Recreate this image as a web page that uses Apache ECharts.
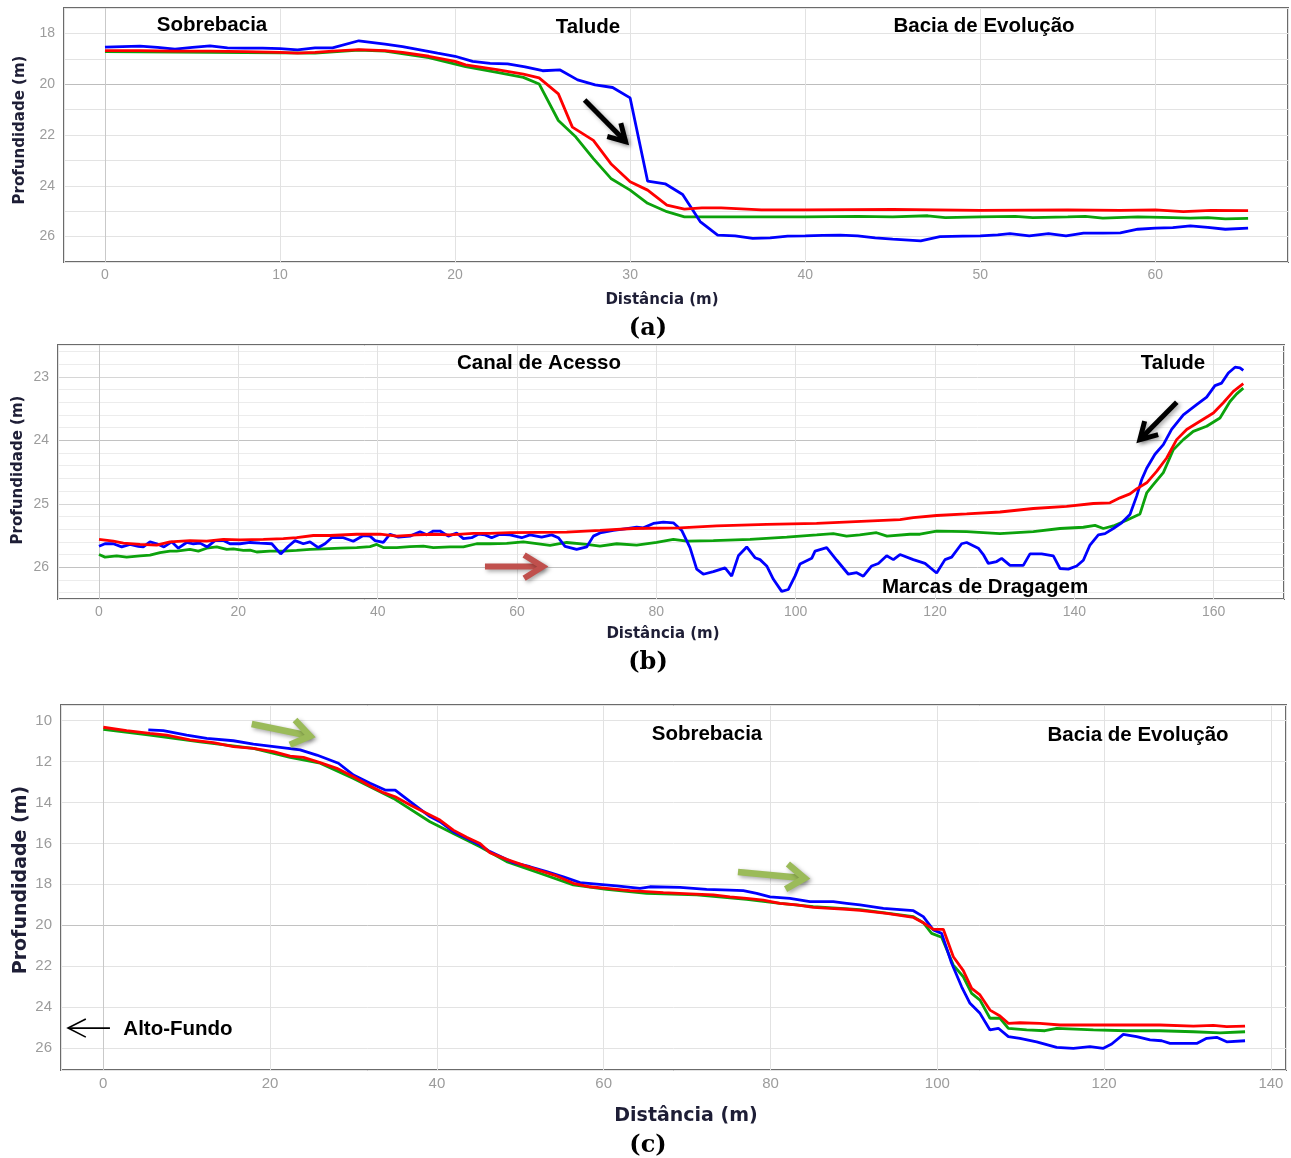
<!DOCTYPE html>
<html><head><meta charset="utf-8">
<script src="https://cdn.jsdelivr.net/npm/echarts@6/dist/echarts.min.js"></script>
<style>html,body{margin:0;padding:0;background:#fff;} #c{width:1291px;height:1158px;}</style>
</head><body><div id="c"></div>
<script>
// ---------- Panel (a) ----------
const aBlueX = [0,1,2,3,4,5,6,7,8,9,10,11,12,13,14.5,16,17,18,19,20,21,22,23,24,25,26,27,28,29,30,31,32,33,34,35,36,37,38,39,40,41,42,43,44,45,46.6,47.7,49,50,51,51.7,52.8,53.9,54.9,55.9,57,58,59,60,61,62,63,64,65.3];
const aBlueY = [18.54,18.52,18.50,18.55,18.62,18.55,18.49,18.57,18.58,18.58,18.60,18.65,18.57,18.57,18.29,18.42,18.52,18.65,18.78,18.9,19.1,19.18,19.2,19.32,19.47,19.44,19.83,20.03,20.13,20.54,23.82,23.92,24.34,25.41,25.94,25.97,26.07,26.05,25.98,25.97,25.95,25.94,25.97,26.05,26.1,26.17,26.0,25.98,25.97,25.93,25.88,25.97,25.88,25.97,25.86,25.86,25.85,25.71,25.67,25.65,25.58,25.64,25.71,25.67];
const aRedX = [0,2,4,6,8,10,11,12,13,14.5,16,17,18.5,20,20.6,22.4,23.9,24.8,25.9,26.7,27.9,28.9,30,31,32.1,33.1,34.1,35.2,37.5,40,45,50,55,58,60,61.6,63.2,65.3];
const aRedY = [18.68,18.68,18.7,18.7,18.72,18.75,18.78,18.75,18.7,18.64,18.68,18.75,18.9,19.1,19.24,19.43,19.6,19.75,20.38,21.69,22.21,23.13,23.84,24.17,24.76,24.92,24.87,24.87,24.95,24.95,24.93,24.97,24.95,24.97,24.95,25.02,24.97,24.98];
const aGreenX = [0,4,8,12,14.5,16,18.5,20.6,22.4,23.9,24.8,25.9,26.9,27.9,28.9,30,31,32.1,33.1,35,40,43,45,47,48,50,52,53,55,56,57,59,61,62,63,64,65.3];
const aGreenY = [18.72,18.74,18.76,18.78,18.66,18.7,18.95,19.31,19.53,19.73,19.99,21.43,22.08,22.93,23.71,24.17,24.69,25.02,25.22,25.22,25.22,25.2,25.22,25.18,25.25,25.22,25.2,25.25,25.22,25.2,25.27,25.22,25.25,25.27,25.25,25.3,25.28];

// ---------- Panel (b) ----------
const bBlueX = [0,0.86,2.06,3.26,4.45,5.65,6.36,7.32,8.28,9.33,10.43,11.39,12.58,13.54,14.5,15.55,16.65,17.85,18.8,20.24,21.68,23.11,24.8,26.08,27.18,28.14,29.33,30.29,31.48,32.44,33.4,35.07,36.5,37.94,38.9,39.62,40.81,41.77,42.97,44.64,46.08,47.04,47.99,48.95,50.14,51.34,52.3,53.49,54.45,55.41,56.36,57.56,59.0,60.67,61.87,63.54,64.98,65.93,66.89,68.56,70.0,70.96,71.91,73.83,75.74,77.18,78.13,79.57,81.0,82.44,83.64,84.83,85.79,86.74,88.18,89.86,90.81,91.77,92.97,94.16,94.88,95.84,96.8,97.99,98.95,99.9,100.62,102.3,102.78,104.45,105.9,107.56,108.76,109.71,110.91,111.87,113.06,114.02,114.97,116.88,118.56,120.23,121.43,122.39,123.82,124.54,126.21,126.93,127.65,128.85,129.56,130.76,132.67,133.63,135.3,136.98,137.94,139.13,140.33,141.29,142.24,143.44,144.4,145.59,146.79,147.98,148.94,149.66,150.38,151.57,152.77,153.96,155.64,157.55,158.99,160.18,161.14,162.1,163.06,163.77,164.25];
const bBlueY = [25.67,25.63,25.63,25.68,25.64,25.67,25.68,25.6,25.63,25.68,25.6,25.70,25.61,25.63,25.62,25.68,25.58,25.58,25.63,25.63,25.61,25.62,25.63,25.79,25.67,25.58,25.63,25.6,25.69,25.63,25.535,25.535,25.59,25.50,25.51,25.58,25.61,25.48,25.525,25.51,25.44,25.49,25.43,25.43,25.51,25.46,25.55,25.535,25.48,25.49,25.535,25.48,25.49,25.535,25.49,25.525,25.49,25.535,25.67,25.72,25.68,25.51,25.46,25.42,25.39,25.37,25.38,25.31,25.29,25.30,25.42,25.69,26.03,26.11,26.07,26.01,26.14,25.82,25.68,25.85,25.88,25.98,26.19,26.38,26.35,26.14,25.95,25.86,25.745,25.69,25.89,26.11,26.085,26.14,25.98,25.94,25.82,25.88,25.80,25.88,25.94,26.09,25.88,25.84,25.63,25.61,25.70,25.80,25.94,25.91,25.86,25.97,25.97,25.79,25.79,25.82,26.02,26.03,25.98,25.89,25.65,25.49,25.47,25.39,25.30,25.17,24.88,24.62,24.44,24.22,24.07,23.83,23.60,23.44,23.32,23.14,23.10,22.94,22.85,22.86,22.90];
const bRedX = [0,2.06,3.5,5.89,8.28,10.19,13.06,15.46,17.85,20.24,23.59,26.46,28.37,30.77,33.16,36.99,40.33,42.73,45.6,47.99,50.38,53.73,56.12,59.0,67.13,71.91,76.7,83.4,88.66,95.84,103.0,110.2,114.98,116.88,120.23,124.54,129.32,134.11,138.89,142.72,145.11,146.55,147.98,148.94,150.38,151.81,153.25,154.68,156.12,158.03,159.95,161.38,162.82,164.25];
const bRedY = [25.56,25.59,25.62,25.64,25.65,25.60,25.58,25.59,25.56,25.57,25.56,25.55,25.535,25.50,25.50,25.48,25.48,25.51,25.49,25.48,25.49,25.467,25.467,25.456,25.446,25.42,25.39,25.38,25.35,25.325,25.31,25.273,25.25,25.22,25.185,25.16,25.13,25.075,25.04,24.996,24.985,24.907,24.844,24.765,24.67,24.49,24.28,23.99,23.83,23.70,23.57,23.41,23.23,23.11];
const bGreenX = [0,0.86,2.54,3.97,5.89,7.32,8.76,10.19,11.15,13.06,14.26,15.46,16.89,18.33,19.28,20.72,21.68,22.63,24.55,26.46,28.37,30.29,32.2,34.6,36.99,38.9,39.86,40.81,42.73,44.64,46.56,47.99,50.38,52.3,54.21,56.12,58.52,60.91,64.74,67.13,70.0,71.91,74.31,77.18,80.05,82.44,84.35,88.18,93.45,98.71,103.02,105.4,107.3,109.2,111.6,113.1,116.4,117.84,120.23,124.54,129.32,134.11,137.94,141.29,142.96,144.16,145.59,147.5,149.42,150.38,151.33,152.77,154.2,155.64,157.07,158.99,160.9,162.34,163.3,164.25];
const bGreenY = [25.80,25.84,25.82,25.84,25.82,25.81,25.77,25.745,25.745,25.72,25.745,25.70,25.68,25.72,25.71,25.735,25.73,25.76,25.745,25.745,25.735,25.72,25.71,25.70,25.69,25.675,25.64,25.69,25.69,25.675,25.666,25.69,25.68,25.68,25.63,25.63,25.624,25.60,25.655,25.61,25.64,25.666,25.63,25.65,25.61,25.56,25.59,25.58,25.56,25.525,25.49,25.47,25.51,25.49,25.456,25.51,25.48,25.48,25.43,25.44,25.47,25.44,25.39,25.37,25.34,25.39,25.35,25.26,25.16,24.83,24.70,24.51,24.15,23.99,23.86,23.78,23.65,23.39,23.27,23.18];

// ---------- Panel (c) ----------
const cBlueX = [5.4,7.2,10.0,12.4,15.6,18.0,21.2,23.6,25.6,28.2,30.0,32.0,33.8,35.0,36.8,39.17,40.37,41.97,43.57,45.17,46.36,49.16,51.16,53.16,55.16,57.16,59.15,61.55,64.35,65.55,69.15,72.34,75.14,76.74,78.34,79.94,82.33,84.73,87.53,89.13,90.73,93.53,97.13,98.32,99.52,100.52,101.72,102.92,103.92,105.12,106.32,107.32,108.52,109.91,111.91,114.31,116.31,118.31,119.91,120.91,122.3,123.9,125.5,126.9,127.9,131.1,132.3,133.5,134.7,136.9];
const cBlueY = [10.45,10.49,10.70,10.86,10.98,11.14,11.30,11.43,11.68,12.08,12.66,13.06,13.39,13.39,13.96,14.69,14.94,15.43,15.75,16.08,16.40,16.94,17.14,17.38,17.63,17.92,17.99,18.08,18.20,18.12,18.15,18.25,18.28,18.31,18.44,18.61,18.69,18.85,18.85,18.93,19.01,19.18,19.29,19.58,20.23,20.40,21.86,23.01,23.82,24.31,25.12,25.04,25.45,25.53,25.70,25.97,26.02,25.94,26.02,25.81,25.34,25.45,25.61,25.65,25.78,25.78,25.53,25.48,25.70,25.65];
const cRedX = [0,2.8,5.6,7.6,10.4,13.2,15.6,18.0,20.4,22.4,24.0,26.0,28.0,30.0,32.0,33.6,35.0,36.8,39.17,40.37,41.97,43.57,45.17,46.36,48.36,50.36,52.36,54.36,56.36,58.35,60.35,63.15,65.15,67.15,70.35,73.14,75.14,77.14,79.14,81.14,83.13,85.13,87.13,89.13,90.73,93.93,97.13,98.32,99.52,100.72,101.92,103.12,104.12,105.12,106.32,107.52,108.52,109.91,112.31,114.71,118.71,122.7,126.7,130.7,133.1,134.7,136.9];
const cRedY = [10.32,10.49,10.62,10.70,10.94,11.07,11.27,11.35,11.51,11.73,11.79,12.05,12.33,12.74,13.19,13.52,13.72,14.12,14.61,14.86,15.35,15.70,16.0,16.45,16.78,17.06,17.33,17.59,17.95,18.12,18.20,18.31,18.36,18.41,18.47,18.52,18.61,18.69,18.77,18.93,19.01,19.13,19.18,19.22,19.27,19.42,19.62,19.88,20.20,20.20,21.54,22.22,23.09,23.41,24.15,24.44,24.80,24.77,24.80,24.88,24.88,24.88,24.88,24.93,24.90,24.96,24.93];
const cGreenX = [0,5.6,11.6,18.0,22.4,26.0,30.0,34.8,39.17,41.97,45.17,48.36,52.36,56.36,60.35,65.15,71.15,77.14,81.14,85.13,90.73,97.13,98.32,99.32,100.52,101.92,103.12,104.12,105.12,106.32,107.52,108.52,110.71,112.91,114.31,118.71,122.7,126.7,130.7,133.9,136.9];
const cGreenY = [10.42,10.70,11.03,11.35,11.79,12.08,12.82,13.80,14.94,15.51,16.16,16.89,17.46,18.03,18.25,18.44,18.52,18.74,18.93,19.09,19.24,19.58,19.88,20.40,20.59,21.95,22.52,23.33,23.66,24.55,24.55,25.04,25.12,25.16,25.04,25.12,25.16,25.16,25.21,25.26,25.21];

// ---------- labels ----------
const xTitle = 'Distância (m)';
const yTitle = 'Profundidade (m)';
const panelLabels = ['(a)', '(b)', '(c)'];
const notesA = ['Sobrebacia', 'Talude', 'Bacia de Evolução'];
const notesB = ['Canal de Acesso', 'Talude', 'Marcas de Dragagem'];
const notesC = ['Sobrebacia', 'Bacia de Evolução', 'Alto-Fundo'];

const BLUE = '#0000ff', RED = '#ff0000', GREEN = '#0ca20c';

function zip(xs, ys) { const n = Math.min(xs.length, ys.length); const r = []; for (let i = 0; i < n; i++) r.push([xs[i], ys[i]]); return r; }
function colors(n, special, base) { const a = []; for (let i = 0; i < n; i++) a.push(special[i] || base); return a; }
function stepFmt(step) { return v => (Math.abs(v / step - Math.round(v / step)) < 1e-6 ? String(Math.round(v)) : ''); }

const tickFont = { color: '#9c9c9c', fontFamily: '"Liberation Sans", Arial, sans-serif', fontSize: 14 };

function xAxis(gi, min, max, step, nLines, size) {
  return {
    type: 'value', gridIndex: gi, min, max, minInterval: step, maxInterval: step, splitNumber: Math.round((max - min) / step),
    axisLine: { show: false }, axisTick: { show: false },
    axisLabel: Object.assign({}, tickFont, { fontSize: size || 14, margin: 6, formatter: stepFmt(step) }),
    splitLine: { show: true, lineStyle: { width: 1, color: colors(nLines, { 1: '#c9c9c9' }, '#e2e2e2') } }
  };
}

const line = (xi, name, xs, ys, color) => ({
  type: 'line', name, xAxisIndex: xi, yAxisIndex: xi, data: zip(xs, ys), showSymbol: false, symbol: 'none',
  smooth: false, lineStyle: { color, width: 2.8 }, itemStyle: { color }, z: 3, silent: true
});

const option = {
  animation: false,
  backgroundColor: '#ffffff',
  grid: [
    { left: 64, top: 8, width: 1225, height: 254, show: true, borderColor: '#6b6b6b', borderWidth: 2, backgroundColor: '#fff' },
    { left: 58, top: 345, width: 1226, height: 254, show: true, borderColor: '#6b6b6b', borderWidth: 2, backgroundColor: '#fff' },
    { left: 61, top: 705, width: 1225, height: 365, show: true, borderColor: '#6b6b6b', borderWidth: 2, backgroundColor: '#fff' }
  ],
  xAxis: [
    xAxis(0, -2.34, 67.58, 10, 9),
    xAxis(1, -5.885, 170.09, 20, 11),
    xAxis(2, -5.07, 141.81, 20, 10, 15)
  ],
  yAxis: [
    { type: 'value', gridIndex: 0, inverse: true, min: 17, max: 27, interval: 1,
      axisLine: { show: false }, axisTick: { show: false },
      axisLabel: Object.assign({}, tickFont, { margin: 9, formatter: v => (Math.round(v) % 2 === 0 ? String(Math.round(v)) : '') }),
      splitLine: { show: true, lineStyle: { width: 1, color: colors(11, { 3: '#bdbdbd' }, '#e3e3e3') } } },
    { type: 'value', gridIndex: 1, inverse: true, min: 22.5, max: 26.5, minInterval: 0.2, maxInterval: 0.2, splitNumber: 20,
      axisLine: { show: false }, axisTick: { show: false },
      axisLabel: Object.assign({}, tickFont, { margin: 9, formatter: stepFmt(1) }),
      splitLine: { show: true, lineStyle: { width: 1, color: colors(22, { 3: '#d6d6d6', 8: '#c2c2c2', 13: '#d6d6d6', 18: '#c2c2c2' }, '#ececec') } } },
    { type: 'value', gridIndex: 2, inverse: true, min: 9.232, max: 27.08, minInterval: 2, maxInterval: 2, splitNumber: 9,
      axisLine: { show: false }, axisTick: { show: false },
      axisLabel: Object.assign({}, tickFont, { fontSize: 15, margin: 9, formatter: stepFmt(2) }),
      splitLine: { show: true, lineStyle: { width: 1, color: colors(11, { 6: '#c2c2c2' }, '#e3e3e3') } } }
  ],
  series: [
    line(0, 'green', aGreenX, aGreenY, GREEN),
    line(0, 'blue', aBlueX, aBlueY, BLUE),
    line(0, 'red', aRedX, aRedY, RED),
    line(1, 'green', bGreenX, bGreenY, GREEN),
    line(1, 'blue', bBlueX, bBlueY, BLUE),
    line(1, 'red', bRedX, bRedY, RED),
    line(2, 'green', cGreenX, cGreenY, GREEN),
    line(2, 'blue', cBlueX, cBlueY, BLUE),
    line(2, 'red', cRedX, cRedY, RED)
  ]
};

const chart = echarts.init(document.getElementById('c'));
chart.setOption(option);

// ---------- annotations ----------
const SANS = '"Liberation Sans", Arial, sans-serif';
const TITLE = '"DejaVu Sans", Verdana, sans-serif';
const SERIF = '"DejaVu Serif", serif';
function txt(x, y, text, font, fill, rotation) {
  return { type: 'text', x, y, rotation: rotation || 0, z: 100, silent: true,
    style: { text, font, fill: fill || '#000', align: 'center', verticalAlign: 'middle' } };
}
function arrow(gi, from, to, color, width, headLen, headDeg, shadow) {
  const p0 = chart.convertToPixel({ gridIndex: gi }, from);
  const p1 = chart.convertToPixel({ gridIndex: gi }, to);
  const ang = Math.atan2(p0[1] - p1[1], p0[0] - p1[0]);
  const a = headDeg * Math.PI / 180;
  const h1 = [p1[0] + headLen * Math.cos(ang + a), p1[1] + headLen * Math.sin(ang + a)];
  const h2 = [p1[0] + headLen * Math.cos(ang - a), p1[1] + headLen * Math.sin(ang - a)];
  const st = { stroke: color, lineWidth: width, fill: null, lineJoin: 'miter', lineCap: 'butt' };
  if (shadow) Object.assign(st, { shadowBlur: 4, shadowColor: 'rgba(0,0,0,0.35)', shadowOffsetX: 2, shadowOffsetY: 2 });
  return [
    { type: 'polyline', z: 100, silent: true, shape: { points: [p0, p1] }, style: Object.assign({}, st) },
    { type: 'polyline', z: 100, silent: true, shape: { points: [h1, p1, h2] }, style: Object.assign({}, st) }
  ];
}

const NOTE = 'bold 20.5px ' + SANS;
const TCOL = '#1e1e36';
const els = [
  txt(212, 25, notesA[0], NOTE), txt(588, 27, notesA[1], NOTE), txt(984, 26, notesA[2], NOTE),
  txt(539, 363, notesB[0], NOTE), txt(1173, 363, notesB[1], NOTE), txt(985, 587, notesB[2], NOTE),
  txt(707, 734, notesC[0], NOTE), txt(1138, 735, notesC[1], NOTE), txt(178, 1029, notesC[2], NOTE),
  txt(662, 300, xTitle, 'bold 15px ' + TITLE, TCOL),
  txt(663, 634, xTitle, 'bold 15px ' + TITLE, TCOL),
  txt(686, 1116, xTitle, 'bold 19px ' + TITLE, TCOL),
  txt(20, 130, yTitle, 'bold 15px ' + TITLE, TCOL, Math.PI / 2),
  txt(18, 470, yTitle, 'bold 15px ' + TITLE, TCOL, Math.PI / 2),
  txt(21, 880, yTitle, 'bold 19px ' + TITLE, TCOL, Math.PI / 2),
  txt(648, 329, panelLabels[0], 'bold 24px ' + SERIF), txt(648, 663, panelLabels[1], 'bold 24px ' + SERIF), txt(648, 1146, panelLabels[2], 'bold 24px ' + SERIF)
].concat(
  arrow(0, [27.4, 20.62], [29.74, 22.26], '#000', 5, 19, 30, true),
  arrow(1, [154.7, 23.40], [149.4, 23.99], '#000', 5, 19, 30, true),
  arrow(1, [55.4, 25.99], [63.7, 25.99], '#c0504d', 6, 22, 32, true),
  arrow(2, [17.8, 10.16], [24.8, 10.75], '#9bbb59', 6.5, 22, 35, true),
  arrow(2, [76.1, 17.4], [84.1, 17.7], '#9bbb59', 6.5, 22, 35, true),
  arrow(2, [0.8, 25.03], [-4.23, 25.03], '#000', 1.6, 20, 27, false)
);
chart.setOption({ graphic: { elements: els } });
</script></body></html>
